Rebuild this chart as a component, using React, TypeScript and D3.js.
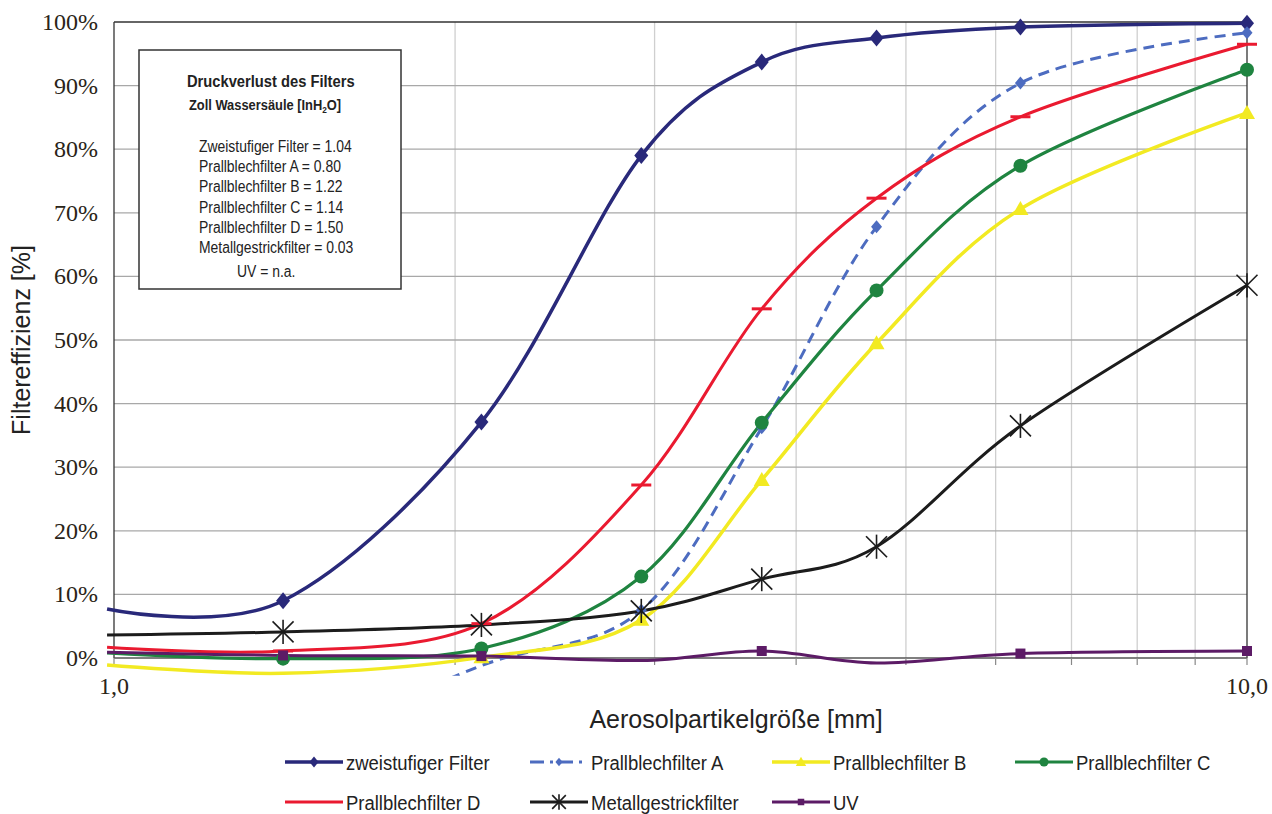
import React from 'react';
import * as d3 from 'd3';

// particle sizes (mm) shared by all series
const sizes = [0.986, 1.41, 2.11, 2.92, 3.73, 4.71, 6.31, 10];

// filter efficiency in %
const zweistufig = [7.7, 9.0, 37.1, 79.0, 93.7, 97.5, 99.2, 99.8];
const prallA = [-20, -14, -1.2, 7.5, 36.2, 67.8, 90.4, 98.3];
const prallB = [-1.1, -2.4, 0.1, 6.0, 28.0, 49.5, 70.6, 85.7];
const prallC = [0.8, -0.1, 1.5, 12.8, 37.0, 57.8, 77.4, 92.5];
const prallD = [1.7, 1.1, 5.4, 27.2, 54.9, 72.3, 85.1, 96.5];
const metall = [3.6, 4.1, 5.2, 7.4, 12.4, 17.5, 36.5, 58.6];
const uv = [0.9, 0.4, 0.3, -0.4, 1.1, -0.8, 0.7, 1.1];

const yTicks = [0, 10, 20, 30, 40, 50, 60, 70, 80, 90, 100];
const xGrid = [2, 3, 4, 5, 6, 7, 8, 9];
const xTicks = [1, 2, 3, 4, 5, 6, 7, 8, 9, 10];

const pressureLines = [
  'Zweistufiger Filter = 1.04',
  'Prallblechfilter A = 0.80',
  'Prallblechfilter B = 1.22',
  'Prallblechfilter C = 1.14',
  'Prallblechfilter D = 1.50',
  'Metallgestrickfilter = 0.03',
  'UV = n.a.',
];

type Marker = 'diamond' | 'smallDiamond' | 'triangle' | 'circle' | 'dash' | 'star' | 'square';

const series: { name: string; values: number[]; color: string; width: number; dash?: string; marker: Marker }[] = [
  { name: 'zweistufiger Filter', values: zweistufig, color: '#29297a', width: 3.5, marker: 'diamond' },
  { name: 'Prallblechfilter A', values: prallA, color: '#4d6cc0', width: 3, dash: '11 7', marker: 'smallDiamond' },
  { name: 'Prallblechfilter B', values: prallB, color: '#f2ea22', width: 3.5, marker: 'triangle' },
  { name: 'Prallblechfilter C', values: prallC, color: '#1f8440', width: 3.2, marker: 'circle' },
  { name: 'Prallblechfilter D', values: prallD, color: '#ea1a30', width: 3, marker: 'dash' },
  { name: 'Metallgestrickfilter', values: metall, color: '#1c1c1c', width: 3, marker: 'star' },
  { name: 'UV', values: uv, color: '#5c1b66', width: 3, marker: 'square' },
];

const W = 1272;
const H = 814;

const x = d3.scaleLog().domain([1, 10]).range([114, 1247]);
const y = d3.scaleLinear().domain([0, 100]).range([658, 22]);

const serif = '"Liberation Serif", Tinos, "DejaVu Serif", serif';
const sans = '"Liberation Sans", Arial, sans-serif';

// condensed text: the original uses a narrow face, squeeze a regular one
function Narrow({ x, y, sx, size, bold, children }: { x: number; y: number; sx: number; size: number; bold?: boolean; children: React.ReactNode }) {
  return (
    <g transform={`translate(${x},${y}) scale(${sx},1)`}>
      <text x={0} y={0} fontFamily={sans} fontSize={size} fontWeight={bold ? 'bold' : 'normal'} fill="#222">
        {children}
      </text>
    </g>
  );
}

function MarkerShape({ kind, cx, cy, color, scale = 1 }: { kind: Marker; cx: number; cy: number; color: string; scale?: number }) {
  const s = scale;
  switch (kind) {
    case 'diamond':
      return <path d={`M${cx},${cy - 8.5 * s}L${cx + 7 * s},${cy}L${cx},${cy + 8.5 * s}L${cx - 7 * s},${cy}Z`} fill={color} />;
    case 'smallDiamond':
      return <path d={`M${cx},${cy - 6.5 * s}L${cx + 5.5 * s},${cy}L${cx},${cy + 6.5 * s}L${cx - 5.5 * s},${cy}Z`} fill={color} />;
    case 'triangle':
      return <path d={`M${cx},${cy - 8 * s}L${cx + 8 * s},${cy + 6 * s}L${cx - 8 * s},${cy + 6 * s}Z`} fill={color} />;
    case 'circle':
      return <circle cx={cx} cy={cy} r={7 * s} fill={color} />;
    case 'dash':
      return <line x1={cx - 10 * s} x2={cx + 10 * s} y1={cy} y2={cy} stroke={color} strokeWidth={3} />;
    case 'star': {
      const r = 10.5 * s;
      return (
        <g stroke={color} strokeWidth={1.6}>
          <line x1={cx - r} y1={cy - r} x2={cx + r} y2={cy + r} />
          <line x1={cx - r} y1={cy + r} x2={cx + r} y2={cy - r} />
          <line x1={cx} y1={cy - r * 1.15} x2={cx} y2={cy + r * 1.15} />
        </g>
      );
    }
    case 'square':
      return <rect x={cx - 5 * s} y={cy - 5 * s} width={10 * s} height={10 * s} fill={color} />;
  }
  return null;
}

const line = d3
  .line<number>()
  .x((_, i) => x(sizes[i]))
  .y((d) => y(d))
  .curve(d3.curveCatmullRom.alpha(0));

const legendCols = [285, 530, 772, 1015];
const legendRows = [762, 802];

export default function App() {
  return (
    <svg width={W} height={H} style={{ position: 'absolute', left: 0, top: 0, background: '#fff' }}>
      <defs>
        <clipPath id="plotClip">
          <rect x={100} y={y(101.5)} width={1160} height={y(-2.8) - y(101.5)} />
        </clipPath>
      </defs>

      {/* grid */}
      {xGrid.map((v) => (
        <line key={'vx' + v} x1={x(v)} x2={x(v)} y1={y(100)} y2={y(0)} stroke="#cfcfcf" strokeWidth={1.3} />
      ))}
      {yTicks.slice(1, -1).map((v) => (
        <line key={'hy' + v} x1={x(1)} x2={x(10)} y1={y(v)} y2={y(v)} stroke="#a8a8a8" strokeWidth={1.3} />
      ))}

      {/* frame */}
      <line x1={x(1)} x2={x(10)} y1={y(100)} y2={y(100)} stroke="#333" strokeWidth={1.3} />
      <line x1={x(10)} x2={x(10)} y1={y(100)} y2={y(0)} stroke="#333" strokeWidth={1.3} />
      <line x1={x(1)} x2={x(1)} y1={y(100)} y2={y(0)} stroke="#333" strokeWidth={1.3} />
      <line x1={x(1)} x2={x(10)} y1={y(0)} y2={y(0)} stroke="#555" strokeWidth={1.3} />
      {xTicks.map((v) => (
        <line key={'tx' + v} x1={x(v)} x2={x(v)} y1={y(0)} y2={y(0) + 7} stroke="#888" strokeWidth={1.2} />
      ))}

      {/* y tick labels */}
      {yTicks.map((v) => (
        <text key={'yl' + v} x={98} y={y(v) + 8} textAnchor="end" fontFamily={serif} fontSize={24} fill="#2a2418">
          {v + '%'}
        </text>
      ))}
      <text x={x(1)} y={694} textAnchor="middle" fontFamily={serif} fontSize={24} fill="#2a2418">1,0</text>
      <text x={x(10)} y={694} textAnchor="middle" fontFamily={serif} fontSize={24} fill="#2a2418">10,0</text>

      {/* axis titles */}
      <text x={736} y={728} textAnchor="middle" fontFamily={sans} fontSize={25} fill="#222">
        Aerosolpartikelgröße [mm]
      </text>
      <text transform="translate(30,340) rotate(-90)" textAnchor="middle" fontFamily={sans} fontSize={25} fill="#222">
        Filtereffizienz [%]
      </text>

      {/* info box */}
      <rect x={139} y={50} width={262} height={239} fill="#fff" stroke="#333" strokeWidth={1.5} />
      <Narrow x={187} y={87} sx={0.92} size={16} bold>
        Druckverlust des Filters
      </Narrow>
      <Narrow x={189} y={110} sx={0.92} size={14} bold>
        Zoll Wassersäule [InH<tspan fontSize={9} dy={3}>2</tspan><tspan dy={-3}>O]</tspan>
      </Narrow>
      {pressureLines.map((t, i) => (
        <Narrow key={t} x={i === 6 ? 237 : 199} y={152 + i * 20.2 + (i === 6 ? 4 : 0)} sx={0.87} size={16}>
          {t}
        </Narrow>
      ))}

      {/* series lines */}
      <g clipPath="url(#plotClip)">
        {series.map((s) => (
          <path
            key={s.name}
            d={line(s.values) || ''}
            fill="none"
            stroke={s.color}
            strokeWidth={s.width}
            strokeDasharray={s.dash}
            strokeLinejoin="round"
          />
        ))}
      </g>
      {/* markers */}
      {series.map((s) => (
        <g key={s.name + 'm'}>
          {s.values.map((v, i) =>
            i > 0 && v >= -0.2 ? (
              <MarkerShape key={i} kind={s.marker} cx={x(sizes[i])} cy={y(v)} color={s.color} />
            ) : null
          )}
        </g>
      ))}

      {/* legend */}
      {series.map((s, i) => {
        const lx = legendCols[i % 4];
        const ly = legendRows[Math.floor(i / 4)];
        return (
          <g key={s.name + 'l'}>
            <line x1={lx} x2={lx + 58} y1={ly} y2={ly} stroke={s.color} strokeWidth={s.width} strokeDasharray={s.dash ? '14 6 3 6' : undefined} />
            {s.marker !== 'dash' && <MarkerShape kind={s.marker} cx={lx + 29} cy={ly} color={s.color} scale={0.65} />}
            <Narrow x={lx + 61} y={ly + 8} sx={0.88} size={21}>
              {s.name}
            </Narrow>
          </g>
        );
      })}
    </svg>
  );
}
